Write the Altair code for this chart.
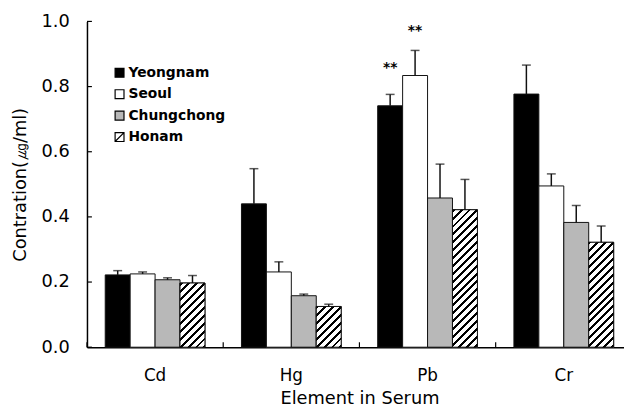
import altair as alt
import pandas as pd

# ---------------- data ----------------
elements = ["Cd", "Hg", "Pb", "Cr"]
regions = ["Yeongnam", "Seoul", "Chungchong", "Honam"]
yeongnam = [0.222, 0.440, 0.741, 0.777]
seoul = [0.225, 0.231, 0.834, 0.495]
chungchong = [0.207, 0.158, 0.458, 0.383]
honam = [0.197, 0.125, 0.422, 0.322]
yeongnam_err = [0.013, 0.108, 0.035, 0.089]
seoul_err = [0.006, 0.031, 0.077, 0.037]
chungchong_err = [0.006, 0.005, 0.104, 0.052]
honam_err = [0.023, 0.007, 0.093, 0.050]
y_tick_values = [0.0, 0.2, 0.4, 0.6, 0.8, 1.0]
star_element = ["Pb", "Pb"]
star_region = ["Yeongnam", "Seoul"]
star_y = [0.865, 0.980]
star_text = ["**", "**"]

# ---------------- layout / style ----------------
PLOT_W, PLOT_H = 544, 330
RANGE_W = 552
P_INNER = 0.268
STEP = RANGE_W / 4.0
BANDWIDTH = STEP * (1 - P_INNER)
BAR_W = BANDWIDTH / 4.0
FONT = "DejaVu Sans"
fills = ["#000000", "#ffffff", "#b8b8b8", "#ffffff"]

means = [yeongnam, seoul, chungchong, honam]
errs = [yeongnam_err, seoul_err, chungchong_err, honam_err]
rows = []
for r, reg in enumerate(regions):
    for e, el in enumerate(elements):
        rows.append({"element": el, "region": reg, "mean": means[r][e],
                     "upper": means[r][e] + errs[r][e]})
df = pd.DataFrame(rows)

x_scale = alt.Scale(domain=elements, range=[0, RANGE_W],
                    paddingInner=P_INNER, paddingOuter=P_INNER / 2)
y_scale = alt.Scale(domain=[0, 1])
x_axis = alt.Axis(labelAngle=0, labelFontSize=17, labelPadding=21,
                  title="Element in Serum", titleFontSize=18, titlePadding=6)
y_axis = alt.Axis(values=y_tick_values, format=".1f", labelFontSize=18,
                  labelPadding=18, title="Contration(㎍/ml)",
                  titleFontSize=18, titlePadding=12)
X = alt.X("element:N", scale=x_scale, axis=x_axis, sort=elements)
XO = alt.XOffset("region:N", scale=alt.Scale(domain=regions, paddingInner=0,
                                             paddingOuter=0), sort=regions)
fill_enc = alt.Fill("region:N", scale=alt.Scale(domain=regions, range=fills),
                    legend=None)


def Y(field):
    return alt.Y(field, scale=y_scale, axis=y_axis)


def hatch(h_px, w_px=BAR_W, period=8.0, black=3.0):
    r = h_px / w_px
    d = w_px * (1 + r * r)
    stops = []
    k = 0
    while k * period < w_px + h_px + period:
        a = k * period / d
        b = (k * period + black) / d
        c = (k + 1) * period / d
        for off, col in [(a, "#000"), (b, "#000"), (b, "#fff"), (c, "#fff")]:
            stops.append(alt.GradientStop(offset=min(off, 1.0), color=col))
        k += 1
    return alt.Gradient(gradient="linear", stops=stops, x1=0, y1=0, x2=1, y2=r)


base = alt.Chart(df)

bars = base.mark_bar(stroke="#111", strokeWidth=1).encode(
    x=X, xOffset=XO, y=Y("mean:Q"), fill=fill_enc)

hatch_layers = []
for el, v in zip(elements, honam):
    hatch_layers.append(
        base.transform_filter(
            (alt.datum.element == el) & (alt.datum.region == "Honam")
        ).mark_bar(fill=hatch(v * PLOT_H), stroke="#111", strokeWidth=1).encode(
            x=X, xOffset=XO, y=Y("mean:Q"))
    )

err_rule = base.mark_rule(color="#111", strokeWidth=1.5).encode(
    x=X, xOffset=XO, y=Y("mean:Q"), y2="upper:Q")
err_cap = base.mark_tick(color="#111", thickness=1.5, size=9).encode(
    x=X, xOffset=XO, y=Y("upper:Q"))

ytick_df = pd.DataFrame({"tick": y_tick_values})
y_ticks = alt.Chart(ytick_df).mark_rule(color="#000", strokeWidth=1.2).encode(
    y=Y("tick:Q"), x=alt.value(0), x2=alt.value(5))

xtick_df = pd.DataFrame({"element": elements})
x_ticks = alt.Chart(xtick_df).mark_rule(color="#000", strokeWidth=1.2,
                                        xOffset=-STEP / 2).encode(
    x=X, y=alt.value(PLOT_H - 5), y2=alt.value(PLOT_H))

star_df = pd.DataFrame({"element": star_element, "region": star_region,
                        "y": star_y, "t": star_text})
stars = alt.Chart(star_df).mark_text(font=FONT, fontSize=14, fontWeight="bold",
                                     baseline="middle", dy=3, color="#000").encode(
    x=X, xOffset=XO, y=Y("y:Q"), text="t:N")

leg_df = pd.DataFrame({"region": regions,
                       "py": [52 + 21.7 * i for i in range(len(regions))]})
leg_sym = alt.Chart(leg_df).mark_point(filled=True, size=81, stroke="#000",
                                       strokeWidth=1.2, opacity=1).encode(
    x=alt.value(33), y=alt.Y("py:Q", scale=None, axis=None),
    fill=fill_enc,
    shape=alt.Shape("region:N", scale=alt.Scale(
        domain=regions,
        range=["square", "square", "square", "M-1,-1H1V1H-1ZM-1,1L1,-1"]),
        legend=None))
leg_txt = alt.Chart(leg_df).mark_text(font=FONT, fontSize=14, fontWeight="bold",
                                      align="left", baseline="middle",
                                      color="#000").encode(
    x=alt.value(42), y=alt.Y("py:Q", scale=None, axis=None), text="region:N")

chart = alt.layer(
    bars, *hatch_layers, err_rule, err_cap, y_ticks, x_ticks, stars,
    leg_sym, leg_txt
).properties(
    width=PLOT_W, height=PLOT_H,
    autosize=alt.AutoSizeParams(type="none"),
    padding={"left": 80, "top": 11, "right": 0, "bottom": 60},
    background="#ffffff",
).configure_view(stroke=None).configure_axis(
    domainColor="#000", domainWidth=1.5, labelColor="#000", titleColor="#000",
    labelFont=FONT, titleFont=FONT, grid=False, ticks=False, tickSize=0,
    titleFontWeight="normal", labelFontWeight="normal")

chart.save("out.html", embed_options={"renderer": "svg", "actions": False})
